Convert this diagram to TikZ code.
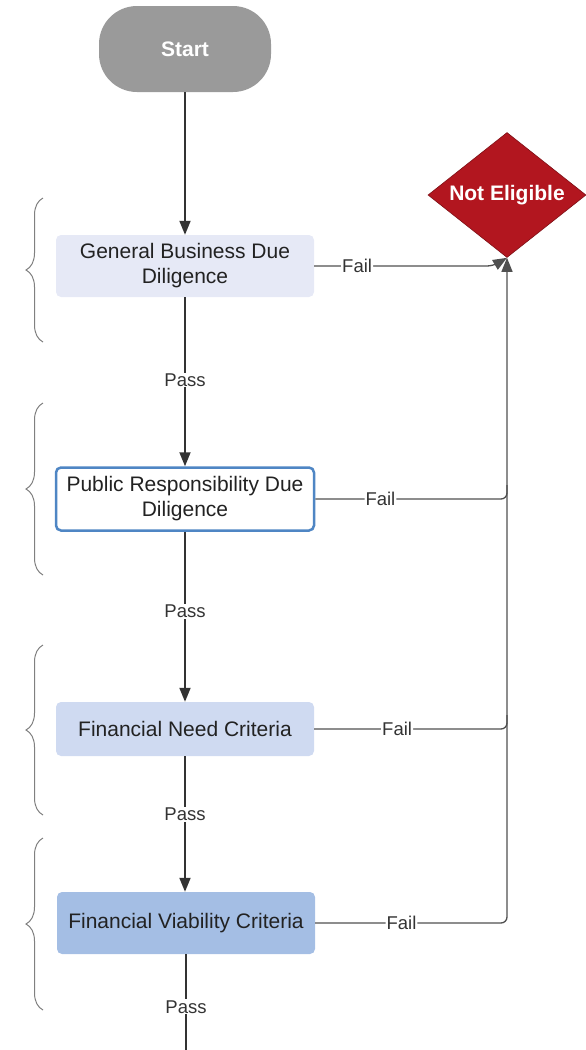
\documentclass[tikz,border=0pt]{standalone}
\usepackage{fontspec}
\setmainfont{Liberation Sans}
\usetikzlibrary{shapes.geometric,arrows.meta,decorations.pathreplacing}
\definecolor{startgray}{HTML}{9A9A9A}
\definecolor{stopred}{HTML}{B2161F}
\definecolor{stopedge}{HTML}{7E1016}
\definecolor{boxtext}{HTML}{222222}
\definecolor{gbdfill}{HTML}{E6E9F6}
\definecolor{prdedge}{HTML}{4F86C4}
\definecolor{fncfill}{HTML}{CFDAF1}
\definecolor{fvcfill}{HTML}{A4BEE4}
\definecolor{arrowline}{HTML}{333333}
\definecolor{failline}{HTML}{505050}

\begin{document}
\begin{tikzpicture}[x=1pt,y=-1pt,>={Triangle[length=14pt,width=11pt]},
	box/.style={rounded corners=5pt,minimum height=62pt,minimum width=258pt,
		inner sep=2pt,align=center,text=boxtext,
		font=\fontsize{21}{25}\selectfont},
	lbl/.style={fill=white,inner sep=1pt,text=arrowline,
		font=\fontsize{18.5}{22}\selectfont},
	passline/.style={->,draw=arrowline,line width=1.8pt},
	fail/.style={draw=failline,line width=1.3pt,rounded corners=6pt},
	brace/.style={draw=gray,line width=1pt,
		decoration={brace,amplitude=17pt},decorate}]
	
	\useasboundingbox (0,0) rectangle (586,1050);
	
	\coordinate (S) at (185,49);   % start
	\coordinate (N) at (507,195);  % not eligible
	\coordinate (B1) at (185,266);
	\coordinate (B2) at (185,499);
	\coordinate (B3) at (185,729);
	\coordinate (B4) at (186,923);
	
	\node[fill=startgray,rounded corners=38pt,minimum width=172pt,minimum height=86pt,
		text=white,font=\fontsize{21}{25}\selectfont\bfseries] (start) at (S) {Start};
	\node[diamond,fill=stopred,draw=stopedge,line width=.6pt,inner sep=0pt,
		minimum width=158pt,minimum height=125pt,aspect=1.27,
		text=white,font=\fontsize{21}{25}\selectfont\bfseries] (ne) at (N) {Not Eligible};
	
	\node[box,fill=gbdfill] (gbd) at (B1) {General Business Due\\Diligence};
	\node[box,fill=white,draw=prdedge,line width=2.5pt,minimum height=63pt] (prd) at (B2)
		{Public Responsibility Due\\Diligence};
	\node[box,fill=fncfill,minimum height=54pt] (fnc) at (B3) {Financial Need Criteria};
	\node[box,fill=fvcfill] (fvc) at (B4) {Financial Viability Criteria};
	
	\coordinate (k1) at (493,266);
	\coordinate (out) at (186,1050);
	
	\draw[passline] (start) -- (gbd);
	\draw[passline] (gbd) -- node[lbl,pos=.49]{Pass} (prd);
	\draw[passline] (prd) -- node[lbl,pos=.47]{Pass} (fnc);
	\draw[passline] (fnc.south) -- node[lbl,pos=.43]{Pass} (fnc.south |- fvc.north);
	\draw[draw=arrowline,line width=1.8pt] (fvc) -- node[lbl,pos=.55]{Pass} (out);
	
	\draw[fail,->] (gbd.east) -- node[lbl,pos=.24]{Fail} (k1) -- (ne.south);
	\draw[fail] (prd.east) -- node[lbl,pos=.34]{Fail} (prd.east -| ne.south) -- ++(0,-14);
	\draw[fail] (fnc.east) -- node[lbl,pos=.43]{Fail} (fnc.east -| ne.south) -- ++(0,-14);
	\draw[fail,->] (fvc.east) -- node[lbl,pos=.45]{Fail} (fvc.east -| ne.south) -- (ne.south);
	
	\draw[brace] (43,342) -- (43,198);
	\draw[brace] (43,575) -- (43,403);
	\draw[brace] (43,815) -- (43,645);
	\draw[brace] (43,1010) -- (43,838);
	
\end{tikzpicture}
\end{document}
